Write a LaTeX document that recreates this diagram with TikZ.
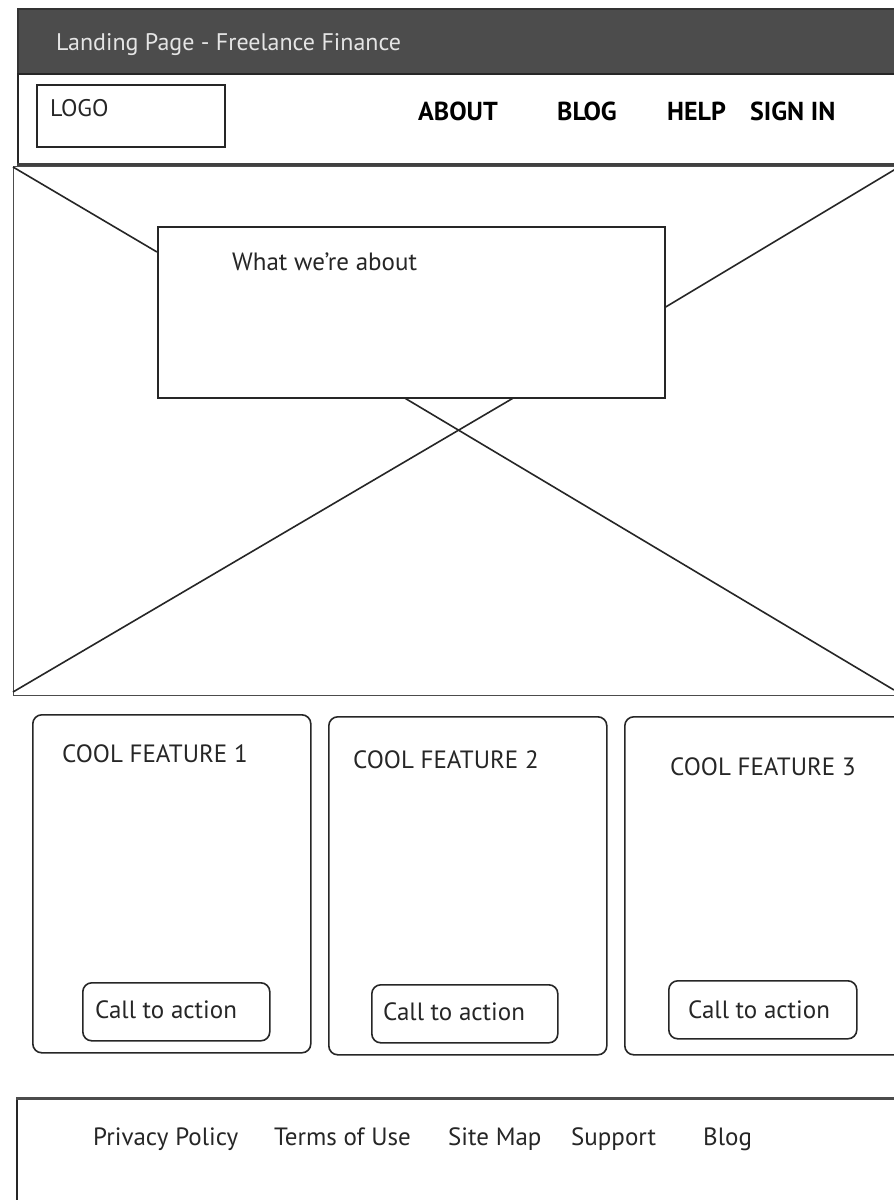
\documentclass[tikz,border=0pt]{standalone}
\usepackage{fontspec}
\setmainfont{PT Sans}
\begin{document}
\begin{tikzpicture}[x=1pt,y=-1pt,
  ln/.style={draw=black!85, line width=1.6pt},
  box/.style={ln, fill=white, anchor=north west, inner sep=0pt},
  card/.style={box, rounded corners=9pt},
  lbl/.style={anchor=base west, inner sep=0pt, text=black!85, font=\fontsize{25}{28}\selectfont},
  nav/.style={lbl, text=black, font=\fontsize{26}{28}\selectfont\bfseries},
]
\useasboundingbox (0,0) rectangle (894,1200);
\clip (0,0) rectangle (894,1200);
\fill[white] (0,0) rectangle (894,1200);
% header
\node[box, fill=black!70, draw=black!80, minimum width=900pt, minimum height=66pt] (header) at (17,8) {};
\node[lbl, text=black!10, font=\fontsize{24}{28}\selectfont] (title) at (56,50) {Landing Page - Freelance Finance};
% nav bar
\node[box, minimum width=900pt, minimum height=90pt] (navbar) at (17,73) {};
\draw[draw=black!75, line width=4pt] (navbar.south west) -- (navbar.south east);
\node[box, minimum width=188pt, minimum height=62pt] (logo) at (36,84) {};
\node[lbl, font=\fontsize{24}{26}\selectfont] (logotxt) at (50,116) {LOGO};
\node[nav] (about) at (418,120) {ABOUT};
\node[nav] (blog) at (557,120) {BLOG};
\node[nav] (help) at (667,120) {HELP};
\node[nav] (signin) at (750,120) {SIGN IN};
% hero
\node[box, draw=black!70, line width=1.2pt, minimum width=900pt, minimum height=529pt] (hero) at (13,166) {};
\coordinate (htl) at (13,167);
\coordinate (htr) at (904,164);
\coordinate (hbl) at (13,692);
\coordinate (hbr) at (894,690);
\coordinate (ia) at (157,252);
\coordinate (ib) at (664,308);
\coordinate (ic) at (515,397);
\coordinate (id) at (403,397);
\draw[ln] (htl) -- (ia);
\draw[ln] (htr) -- (ib);
\draw[ln] (hbl) -- (ic);
\draw[ln] (hbr) -- (id);
\node[box, minimum width=507pt, minimum height=171pt] (inner) at (157,226) {};
\node[lbl] (about2) at (232,270) {What we’re about};
% cards
\node[card, minimum width=278pt, minimum height=338pt] (card1) at (32,714) {};
\node[card, minimum width=278pt, minimum height=338pt] (card2) at (328,716) {};
\node[card, minimum width=290pt, minimum height=338pt] (card3) at (624,716) {};
\node[lbl] (f1) at (62,762) {COOL FEATURE 1};
\node[lbl] (f2) at (353,768) {COOL FEATURE 2};
\node[lbl] (f3) at (670,775) {COOL FEATURE 3};
\node[card, minimum width=187pt, minimum height=58pt] (cta1) at (82,982) {};
\node[card, minimum width=186pt, minimum height=58pt] (cta2) at (371,984) {};
\node[card, minimum width=188pt, minimum height=58pt] (cta3) at (668,980) {};
\node[lbl] (c1) at (95,1018) {Call to action};
\node[lbl] (c2) at (383,1020) {Call to action};
\node[lbl] (c3) at (688,1018) {Call to action};
% footer
\node[box, minimum width=900pt, minimum height=120pt] (footer) at (16,1098) {};
\draw[draw=black!70, line width=3pt] (footer.north west) -- (footer.north east);
\node[lbl] (pp) at (93,1145) {Privacy Policy};
\node[lbl] (tu) at (274,1145) {Terms of Use};
\node[lbl] (sm) at (448,1145) {Site Map};
\node[lbl] (sp) at (571,1145) {Support};
\node[lbl] (bl) at (703,1145) {Blog};
\end{tikzpicture}
\end{document}
